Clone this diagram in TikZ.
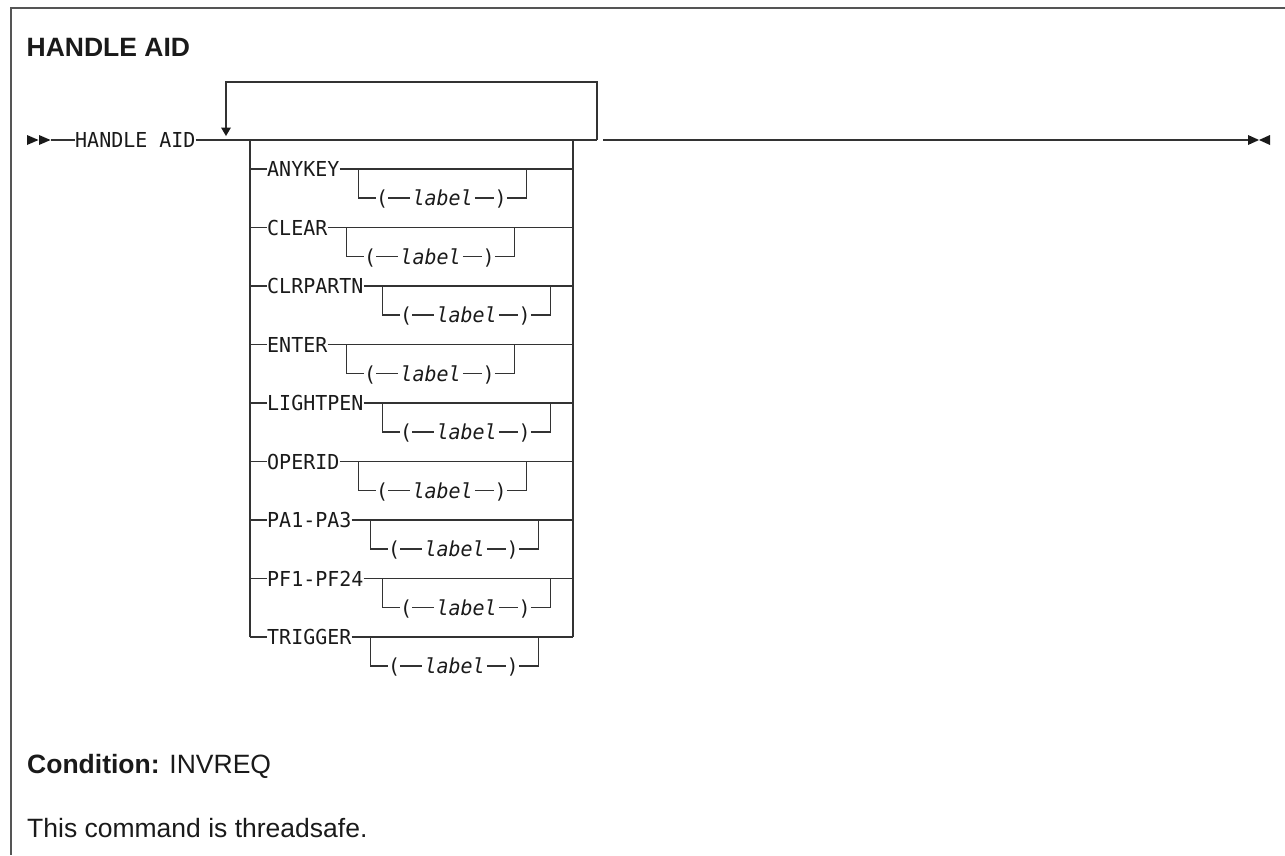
\documentclass[tikz,border=0pt]{standalone}
\usepackage{fontspec}
\setmainfont{Liberation Sans}
\newfontfamily\railfont{DejaVu Sans Mono}[FakeStretch=0.97]
\usetikzlibrary{calc}
\definecolor{ink}{HTML}{1A1A1A}
\definecolor{railc}{HTML}{333333}
\definecolor{framec}{HTML}{555555}
\tikzset{
  rail/.style={draw=railc, line width=1.3pt},
  framel/.style={draw=framec, line width=1.6pt},
  kw/.style={font=\railfont\fontsize{20.6}{24}\selectfont, text=ink, inner sep=0pt, text height=15pt, text depth=0pt},
  lab/.style={font=\railfont\itshape\fontsize{20.6}{24}\selectfont, text=ink, inner xsep=2pt, inner ysep=0pt, text height=15pt, text depth=0pt},
  prose/.style={font=\fontsize{26.5}{30}\selectfont, text=ink, inner sep=0pt, anchor=base west},
  tip/.style={fill=ink, draw=none}
}
\begin{document}
\begin{tikzpicture}[x=1pt, y=-1pt]
\useasboundingbox (0,0) rectangle (1285,855);
% frame
\draw[framel] (1285,8) -- (11,8) -- (11,855);
% title
\node[prose, font=\bfseries\fontsize{26.5}{30}\selectfont] (title) at (26.5,56.7) {HANDLE AID};
% start
\fill[tip] (27,135) -- (38.5,140) -- (27,145) -- cycle;
\fill[tip] (39,135) -- (50.5,140) -- (39,145) -- cycle;
\coordinate (start) at (50.5,140);
\node[kw, anchor=west] (cmd) at (75,140) {HANDLE AID};
\draw[rail] (start) -- (cmd.west);
\coordinate (jl) at (250,140);
\coordinate (jr) at (573,140);
\coordinate (lr) at (597,140);
\coordinate (lt) at (226,128);
\draw[rail] (cmd.east) -- (lr);
% repeat loop
\draw[rail] (lr) -- (597,82) -- (226,82) -- (lt);
\fill[tip] (221,127.5) -- (231,127.5) -- (226,136) -- cycle;
% continuation
\coordinate (c1) at (603,140);
\coordinate (c2) at (627,140);
\coordinate (fin) at (1248,140);
\draw[rail] (c1) -- (fin);
\draw[draw=railc, line width=2.4pt] (c1) -- (c2);
\fill[tip] (1248,135) -- (1259,140) -- (1248,145) -- cycle;
\fill[tip] (1270,135) -- (1259,140) -- (1270,145) -- cycle;
% stack verticals
\draw[rail] (jl) -- (250,637);
\draw[rail] (jr) -- (573,637);
% rows
\foreach \nm [count=\i from 0] in {ANYKEY,CLEAR,CLRPARTN,ENTER,LIGHTPEN,OPERID,PA1-PA3,PF1-PF24,TRIGGER}{
  \pgfmathsetmacro{\yy}{169+58.5*\i}
  \node[kw, anchor=west] (k\i) at (267,\yy) {\nm};
  \draw[rail] (250,\yy) -- (k\i.west);
  \draw[rail] (k\i.east) -- (573,\yy);
  \coordinate (bl\i) at ($(k\i.east)+(19,0)$);
  \node[kw] (po\i) at ($(bl\i)+(23.5,29)$) {(};
  \node[lab] (lb\i) at ($(bl\i)+(84,29)$) {label};
  \node[kw] (pc\i) at ($(bl\i)+(142,29)$) {)};
  \coordinate (br\i) at ($(bl\i)+(168,0)$);
  \draw[rail] (bl\i) |- (po\i.west);
  \draw[rail] (po\i.east) -- (lb\i.west);
  \draw[rail] (lb\i.east) -- (pc\i.west);
  \draw[rail] (pc\i.east) -| (br\i);
}
% footer
\node[prose] (cond) at (27,773) {\textbf{Condition:} INVREQ};
\node[prose] (safe) at (27,837) {This command is threadsafe.};
\end{tikzpicture}
\end{document}
